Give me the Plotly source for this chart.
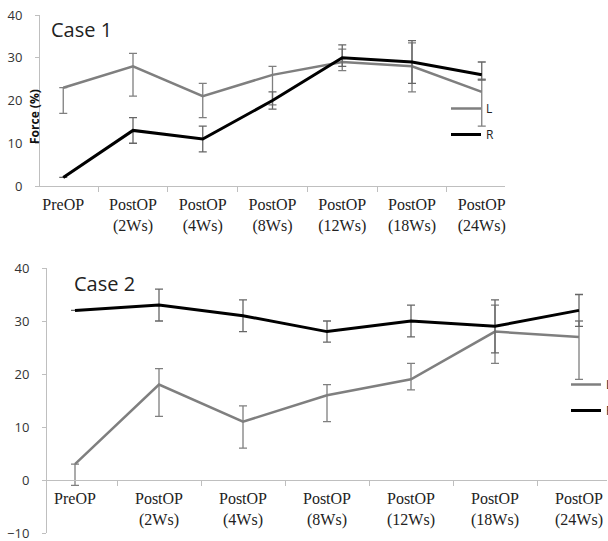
import plotly.graph_objects as go

W, H = 608, 541

categories = ["PreOP", "PostOP<br>(2Ws)", "PostOP<br>(4Ws)", "PostOP<br>(8Ws)",
              "PostOP<br>(12Ws)", "PostOP<br>(18Ws)", "PostOP<br>(24Ws)"]

case1_L = [23, 28, 21, 26, 29, 28, 22]
case1_L_plus = [0, 3, 3, 2, 3, 5.5, 3]
case1_L_minus = [6, 7, 5, 7, 2, 6, 8]
case1_R = [2, 13, 11, 20, 30, 29, 26]
case1_R_plus = [None, 3, 3, 2, 3, 5, 3]
case1_R_minus = [None, 3, 3, 2, 2, 5, 1.2]

case2_L = [3, 18, 11, 16, 19, 28, 27]
case2_L_plus = [0, 3, 3, 2, 3, 5, 3]
case2_L_minus = [4, 6, 5, 5, 2, 6, 8]
case2_R = [32, 33, 31, 28, 30, 29, 32]
case2_R_plus = [None, 3, 3, 2, 3, 5, 3]
case2_R_minus = [None, 3, 3, 2, 3, 5, 3]

y1_ticks = [0, 10, 20, 30, 40]
y2_ticks = [-10, 0, 10, 20, 30, 40]

GRAY = "#7f7f7f"
BLACK = "#000000"
AXIS = "#bfbfbf"

fig = go.Figure()


def add_series(y, plus, minus, color, width, ebcolor, name, xa, ya, legend, group):
    fig.add_trace(go.Scatter(
        x=categories, y=y, mode="lines", name=name,
        line=dict(color=color, width=width),
        error_y=dict(type="data", symmetric=False, array=plus, arrayminus=minus,
                     color=ebcolor, thickness=1.3, width=4),
        xaxis=xa, yaxis=ya, legend=legend, legendgroup=group,
    ))


add_series(case1_L, case1_L_plus, case1_L_minus, GRAY, 2.5, GRAY, "L", "x", "y", "legend", "a1")
add_series(case1_R, case1_R_plus, case1_R_minus, BLACK, 3, "#666666", "R", "x", "y", "legend", "b1")
add_series(case2_L, case2_L_plus, case2_L_minus, GRAY, 2.5, GRAY, "L", "x2", "y2", "legend2", "a2")
add_series(case2_R, case2_R_plus, case2_R_minus, BLACK, 3, "#666666", "R", "x2", "y2", "legend2", "b2")

xfont = dict(family="Liberation Serif", size=16, color="#222222")
yfont = dict(family="Open Sans", size=13, color="#333333")

x_common = dict(type="category", showline=True, linecolor=AXIS, linewidth=1,
                ticks="outside", tickson="boundaries", ticklen=5, tickcolor=AXIS,
                showgrid=False, zeroline=False, tickfont=xfont, fixedrange=True,
                ticklabelstandoff=4, ticklabeloverflow="allow")
y_common = dict(showline=True, linecolor=AXIS, linewidth=1, ticks="outside",
                ticklen=4, tickcolor=AXIS, showgrid=False, zeroline=False,
                tickfont=yfont, fixedrange=True, ticklabelstandoff=10,
                ticklabeloverflow="allow")

# top plot pixel box
t_l, t_r, t_t, t_b = 40, 505, 15, 186
# bottom plot pixel box
b_l, b_r, b_t, b_b = 47, 607, 268, 533
zero_px = b_b - (b_b - b_t) * (0 - (-10)) / 50.0

fig.update_layout(
    width=W, height=H,
    margin=dict(l=0, r=0, t=0, b=0, autoexpand=False),
    paper_bgcolor="white", plot_bgcolor="white",
    xaxis=dict(domain=[t_l / W, t_r / W], anchor="y", **x_common),
    yaxis=dict(domain=[1 - t_b / H, 1 - t_t / H], anchor="x", range=[0, 40],
               tickvals=y1_ticks, **y_common),
    xaxis2=dict(domain=[b_l / W, b_r / W], anchor="free", position=1 - zero_px / H,
                **x_common),
    yaxis2=dict(domain=[1 - b_b / H, 1 - b_t / H], anchor="x2", range=[-10, 40],
                tickvals=y2_ticks, **y_common),
    legend=dict(x=446 / W, y=1 - 94 / H, xanchor="left", yanchor="top",
                bgcolor="rgba(0,0,0,0)", tracegroupgap=7,
                font=dict(family="Open Sans", size=12, color="#222222")),
    legend2=dict(x=566 / W, y=1 - 370 / H, xanchor="left", yanchor="top",
                 bgcolor="rgba(0,0,0,0)", tracegroupgap=7,
                 font=dict(family="Open Sans", size=12, color="#222222")),
    annotations=[
        dict(text="Case 1", x=49 / W, y=1 - 29 / H, xref="paper", yref="paper",
             xanchor="left", yanchor="middle", showarrow=False,
             font=dict(family="Open Sans", size=20, color="#222222")),
        dict(text="Case 2", x=72 / W, y=1 - 283 / H, xref="paper", yref="paper",
             xanchor="left", yanchor="middle", showarrow=False,
             font=dict(family="Open Sans", size=20, color="#222222")),
        dict(text="<b>Force (%)</b>", x=35 / W, y=1 - 117 / H, xref="paper", yref="paper",
             xanchor="center", yanchor="middle", showarrow=False, textangle=-90,
             font=dict(family="Open Sans", size=12, color="#111111")),
    ],
)

fig.write_html("out.html", config={"displayModeBar": False},
               post_script="document.body.style.margin='0';document.body.style.overflow='hidden';")
